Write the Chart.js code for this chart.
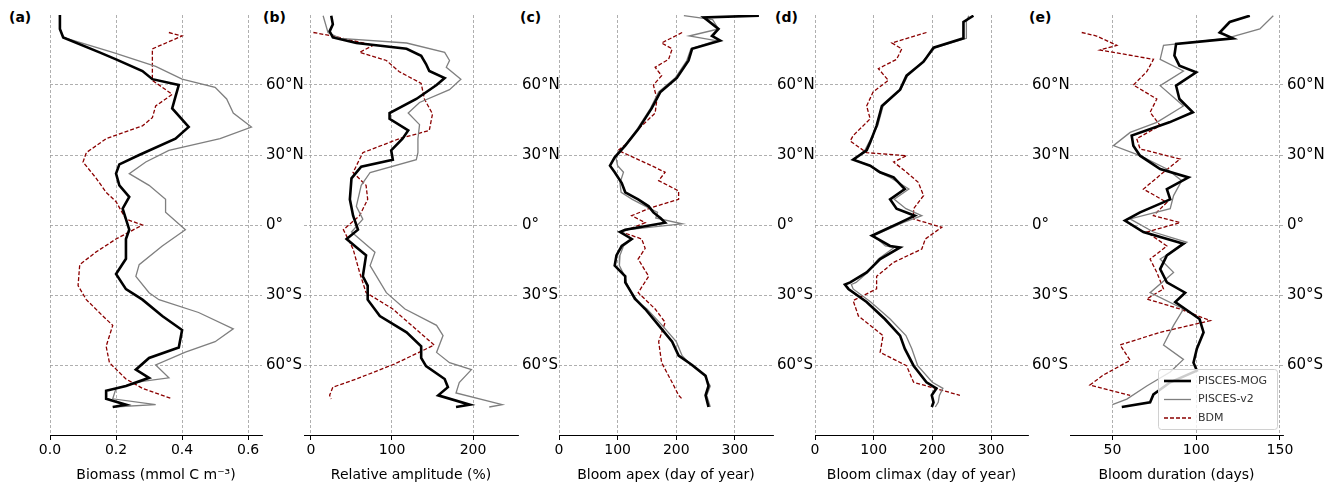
<!DOCTYPE html>
<html>
<head>
<meta charset="utf-8">
<script src="https://cdn.jsdelivr.net/npm/chart.js@4.4.0/dist/chart.umd.min.js"></script>
<style>
  body { margin: 0; background: #fff; width: 1336px; height: 484px; overflow: hidden; position: relative; font-family: "DejaVu Sans", sans-serif; }
  canvas { position: absolute; top: 0; }
  .lab { position: absolute; top: 9px; font: bold 14px "DejaVu Sans", sans-serif; }
</style>
</head>
<body>
<div class="lab" style="left:9px">(a)</div>
<div class="lab" style="left:263px">(b)</div>
<div class="lab" style="left:520px">(c)</div>
<div class="lab" style="left:775px">(d)</div>
<div class="lab" style="left:1029px">(e)</div>
<canvas id="ca"></canvas>
<canvas id="cb"></canvas>
<canvas id="cc"></canvas>
<canvas id="cd"></canvas>
<canvas id="ce"></canvas>
<script>
// ---- latitude ticks
const latTicks = [-60, -30, 0, 30, 60];
const latNames = { "-60": "60°S", "-30": "30°S", "0": "0°", "30": "30°N", "60": "60°N" };
const seriesNames = ["PISCES-MOG", "PISCES-v2", "BDM"];

// ---- (a) biomass
const latA_mog = [90, 84, 80.4, 74, 71, 66, 62.5, 60, 55, 50, 42, 37, 30, 26, 22, 17, 12, 7, 2.5, -2, -6, -14.5, -21, -27.5, -32, -39, -45, -52.5, -57, -62, -65.5, -69, -71, -74.5, -77, -78];
const bioMog = [0.03, 0.03, 0.04, 0.15, 0.2, 0.28, 0.31, 0.39, 0.38, 0.37, 0.42, 0.38, 0.27, 0.21, 0.2, 0.21, 0.24, 0.22, 0.23, 0.24, 0.23, 0.23, 0.2, 0.23, 0.28, 0.34, 0.4, 0.39, 0.3, 0.26, 0.3, 0.23, 0.17, 0.17, 0.23, 0.19];
const latA_v2 = [90, 84, 80.4, 74, 68, 62.5, 59, 54, 48, 42, 37, 32, 27, 22, 17, 11, 5.5, -2, -9, -17, -22, -29, -32, -37.5, -44.5, -50, -54.5, -60, -65.5, -67, -70, -74.5, -77, -78];
const bioV2 = [0.03, 0.03, 0.04, 0.19, 0.32, 0.4, 0.5, 0.535, 0.555, 0.61, 0.515, 0.36, 0.29, 0.24, 0.3, 0.35, 0.35, 0.41, 0.34, 0.27, 0.26, 0.3, 0.33, 0.45, 0.555, 0.5, 0.41, 0.32, 0.36, 0.28, 0.2, 0.19, 0.32, 0.19];
const latA_bdm = [82.5, 81, 75.5, 68, 62, 56, 51, 46, 42.5, 37, 31, 27, 20, 14, 10, 2.5, 0, -6, -11.5, -17, -26, -32, -39, -43, -52, -59, -66, -70, -74.5];
const bioBdm = [0.36, 0.4, 0.31, 0.31, 0.31, 0.37, 0.32, 0.31, 0.28, 0.17, 0.11, 0.1, 0.14, 0.17, 0.2, 0.23, 0.28, 0.2, 0.14, 0.09, 0.085, 0.11, 0.16, 0.19, 0.17, 0.18, 0.23, 0.28, 0.37];

// ---- (b) relative amplitude
const latB_mog = [89.7, 86, 83, 80.4, 78, 75.5, 72.5, 69, 66, 63, 60, 54, 48, 45.5, 40.5, 37, 32, 28, 25, 20, 11, 4, -2, -6, -9.5, -13, -22, -26, -32, -39, -46, -52, -57, -60.5, -66, -69.5, -73, -77, -78];
const ampMog = [25, 27, 23, 27, 56, 118, 136, 142, 146, 165, 155, 130, 97, 97, 120, 113, 99, 101, 62, 50, 48, 52, 58, 44, 56, 68, 64, 70, 70, 85, 118, 136, 136, 142, 165, 169, 157, 196, 179];
const latB_v2 = [89.7, 82.5, 80, 78, 74, 70.5, 67.6, 62.5, 58, 52.5, 48, 43, 37, 31, 28, 22.5, 17, 8, 2.5, -3, -11.7, -17.4, -29, -36, -43, -47.4, -54.6, -59, -62, -67.5, -72, -77, -78];
const ampV2 = [15, 21, 36, 118, 165, 171, 167, 185, 171, 134, 120, 134, 132, 132, 130, 73, 62, 56, 64, 50, 79, 73, 93, 116, 155, 163, 155, 171, 198, 183, 179, 236, 220];
const latB_bdm = [82.5, 81, 77, 74, 70.5, 65.7, 60.7, 54, 47.6, 40.5, 37, 31, 22.5, 17, 11, 4, -2, -10.3, -20.3, -29, -36, -46, -51.4, -53.8, -59.6, -66, -69.5, -73, -74.6];
const ampBdm = [3, 27, 77, 60, 93, 109, 136, 140, 150, 146, 109, 64, 52, 68, 70, 60, 40, 52, 60, 68, 101, 134, 152, 138, 103, 56, 27, 23, 25];

// ---- (c) bloom apex
const latC_mog = [89.7, 89, 84, 81, 79, 75.5, 70.5, 63, 57, 50, 41, 34, 29, 25.4, 22.6, 18, 14, 11, 8, 5.4, 3, 1, -2, -3, -6, -9, -13, -17.4, -22, -24.6, -31.7, -36, -43, -50, -56, -60, -64.6, -69, -73, -78];
const apexMog = [341, 247, 272, 261, 275, 227, 221, 201, 173, 158, 135, 113, 95, 87, 95, 107, 113, 135, 153, 161, 173, 181, 113, 104, 124, 107, 98, 95, 113, 113, 130, 147, 170, 193, 204, 227, 250, 255, 250, 255];
const latC_v2 = [89.7, 88, 84, 81, 79, 75.5, 70.5, 63, 57, 50, 41, 34, 29, 25.4, 22.6, 18, 14, 11, 8, 5.4, 3, 0.5, -2, -3, -6, -9, -13, -17.4, -22, -24.6, -31.7, -36, -43, -50, -56, -60, -64.6, -69, -73, -78];
const apexV2 = [213, 262, 272, 222, 268, 225, 218, 198, 170, 156, 133, 112, 97, 100, 110, 104, 106, 125, 148, 168, 165, 210, 118, 108, 125, 110, 104, 103, 112, 115, 128, 150, 176, 200, 210, 225, 248, 258, 252, 258];
const latC_bdm = [82.5, 78, 75.5, 71, 67.6, 64, 60, 54, 48, 41, 35.4, 32, 30, 25.4, 22.6, 19, 14.6, 11, 7.5, 4, 1, -3, -6, -10, -14.6, -22, -29, -36, -41.7, -50, -59, -67.5, -73, -74.6];
const apexBdm = [210, 175, 193, 187, 164, 175, 161, 167, 164, 135, 118, 101, 118, 158, 181, 170, 204, 204, 158, 124, 147, 107, 141, 147, 135, 153, 135, 164, 181, 170, 175, 193, 204, 210];

// ---- (d) bloom climax
const latD = [89.7, 87, 80, 76, 70, 64, 58, 51, 42.6, 35.4, 32, 28, 25.4, 22.6, 20.4, 15.4, 11, 7, 4, 1, -4.6, -9, -9.6, -14.6, -20.3, -24.6, -25.5, -27.4, -33, -40.3, -47.4, -53, -60.3, -67.4, -70, -73, -76, -78];
const climMog = [270, 253, 253, 202, 185, 156, 145, 114, 105, 94, 88, 65, 94, 111, 134, 153, 128, 139, 170, 145, 97, 128, 145, 111, 88, 60, 51, 57, 88, 119, 145, 153, 168, 190, 207, 199, 202, 199];
const climV2 = [262, 258, 258, 205, 183, 158, 146, 116, 107, 92, 85, 67, 95, 108, 128, 160, 135, 155, 182, 150, 100, 120, 135, 108, 90, 70, 62, 65, 95, 128, 155, 165, 175, 200, 218, 212, 210, 205];
const latD_bdm = [82.5, 78, 75.5, 71, 67, 62, 57, 51, 45.5, 38.3, 36, 31, 29.7, 27, 22.6, 18.3, 12.6, 7, 2.6, -1, -6, -10.3, -16, -22, -27.4, -32.4, -39, -47.4, -54.6, -60.3, -67.4, -73];
const climBdm = [190, 131, 148, 139, 108, 125, 99, 88, 94, 65, 60, 88, 156, 134, 156, 176, 185, 168, 168, 216, 188, 182, 134, 105, 105, 65, 74, 116, 111, 156, 168, 247];

// ---- (e) bloom duration
const latE_mog = [89.7, 87, 82.5, 80, 77.6, 72.6, 68.3, 65.4, 59.7, 54, 48.3, 44, 38.3, 34, 29.7, 24, 20.4, 15.4, 11, 5.4, 1.9, -3, -8, -13, -18.9, -24.6, -29, -33, -40.3, -46, -53, -59, -62.4, -67.4, -72.6, -76, -78];
const durMog = [132, 120, 114, 122, 88, 87, 90, 100, 88, 90, 98, 84, 61.5, 62.5, 66.5, 78.5, 95.4, 82.5, 84.5, 66.5, 57.5, 68.5, 92.4, 82.5, 78.5, 82.5, 93.4, 87.5, 102, 104.4, 100.4, 98.4, 100.4, 84.5, 74.5, 72.5, 55.6];
const latE_v2 = [89.7, 84, 80, 77, 71, 66, 59.7, 51, 44, 39.7, 34, 29.7, 24, 19, 12.6, 7, 2.6, -3, -7.4, -14.6, -20.3, -29, -36, -43, -51.4, -57.6, -63, -69, -74.6, -77];
const durV2 = [146, 138, 118, 80.5, 78.5, 92.4, 78.5, 92.4, 76.5, 60.6, 50.6, 66.5, 82.5, 91.4, 86.5, 84.5, 60.5, 74.5, 94.4, 78.5, 86.5, 72.5, 92.4, 86.5, 80.5, 92.4, 84.5, 70.5, 58.6, 50];
const latE_bdm = [82.5, 81, 77, 75, 71, 65.7, 60, 54, 48.3, 42.6, 37, 32.6, 28.3, 22.6, 15.4, 9.7, 4, 1, -3, -9, -14.6, -20.3, -27.4, -31.7, -36, -41, -46, -51.4, -58, -64.3, -68.6, -73];
const durBdm = [31.7, 40.6, 52.6, 42.6, 74.5, 70.5, 62.5, 76.5, 72.5, 78.5, 64.5, 66.5, 90.4, 80.5, 68.5, 82.5, 74.5, 90.4, 70.5, 82.5, 72.5, 76.5, 80.5, 70.5, 90.4, 108.4, 78.5, 54.6, 60.6, 44.6, 36.6, 60.6];

function pts(lats, vals) {
    return lats.map((lat, i) => ({ x: vals[i], y: lat }));
}

const legendPlugin = {
    id: "boxLegend",
    afterDraw(chart, args, opts) {
        if (!opts.show) return;
        const ctx = chart.ctx;
        const a = chart.chartArea;
        const w = 119, h = 60;
        const x0 = a.right - 6 - w, y0 = a.bottom - 6 - h;
        ctx.save();
        ctx.fillStyle = "rgba(255,255,255,0.8)";
        ctx.strokeStyle = "#d0d0d0";
        ctx.lineWidth = 1;
        ctx.beginPath();
        ctx.roundRect(x0 + 0.5, y0 + 0.5, w, h, 3);
        ctx.fill();
        ctx.stroke();
        ctx.font = "11px 'DejaVu Sans'";
        ctx.textBaseline = "middle";
        chart.data.datasets.forEach((ds, i) => {
            const yy = y0 + 12 + i * 18.5;
            ctx.strokeStyle = ds.borderColor;
            ctx.lineWidth = ds.borderWidth;
            ctx.setLineDash(ds.borderDash || []);
            ctx.beginPath();
            ctx.moveTo(x0 + 6, yy);
            ctx.lineTo(x0 + 33, yy);
            ctx.stroke();
            ctx.setLineDash([]);
            ctx.fillStyle = "#333";
            ctx.fillText(ds.label, x0 + 40, yy);
        });
        ctx.restore();
    }
};

function makePanel(id, left, right, xmin, xmax, xticks, fmt, title, data, legend) {
    const canvas = document.getElementById(id);
    const W = (right - left) + 15 + 52;
    canvas.style.left = (left - 15) + "px";
    canvas.style.width = W + "px";
    canvas.style.height = "484px";
    canvas.width = W;
    canvas.height = 484;
    const gridColor = "#9a9a9a";
    new Chart(canvas, {
        type: "scatter",
        data: {
            datasets: [
                { label: seriesNames[0], data: data[0], borderColor: "#000", borderWidth: 2.6, showLine: true, pointRadius: 0, order: 0 },
                { label: seriesNames[1], data: data[1], borderColor: "#7f7f7f", borderWidth: 1.3, showLine: true, pointRadius: 0, order: 1 },
                { label: seriesNames[2], data: data[2], borderColor: "#8b0000", borderWidth: 1.3, borderDash: [4, 2], showLine: true, pointRadius: 0, order: 2 }
            ]
        },
        options: {
            responsive: false,
            animation: false,
            layout: { padding: { left: 15, top: 15, right: 0, bottom: 0 } },
            plugins: { legend: { display: false }, tooltip: { enabled: false }, boxLegend: { show: legend } },
            scales: {
                x: {
                    type: "linear", min: xmin, max: xmax,
                    afterBuildTicks: s => { s.ticks = xticks.map(v => ({ value: v })); },
                    afterFit: s => { s.height = 49; },
                    border: { display: true, color: "#000", width: 1, dash: [3, 2] },
                    grid: { color: gridColor, lineWidth: 0.8, drawTicks: true, tickLength: 5, tickColor: "#000", tickWidth: 1, tickBorderDash: [] },
                    ticks: { color: "#000", font: { family: "DejaVu Sans", size: 14 }, padding: 2, callback: fmt, maxRotation: 0 },
                    title: { display: true, text: title, color: "#000", font: { family: "DejaVu Sans", size: 14 }, padding: { top: 1, bottom: 0 } }
                },
                y: {
                    type: "linear", position: "right", min: -90, max: 90,
                    afterBuildTicks: s => { s.ticks = latTicks.map(v => ({ value: v })); },
                    afterFit: s => { s.width = 52; },
                    border: { display: false, dash: [3, 2] },
                    grid: { color: gridColor, lineWidth: 0.8, drawTicks: false },
                    ticks: { color: "#000", font: { family: "DejaVu Sans", size: 15 }, padding: 4, callback: v => latNames[String(v)] }
                }
            }
        },
        plugins: [legendPlugin]
    });
}

makePanel("ca", 50, 262, 0, 0.642, [0, 0.2, 0.4, 0.6], v => v.toFixed(1), "Biomass (mmol C m\u207B\u00B3)",
    [pts(latA_mog, bioMog), pts(latA_v2, bioV2), pts(latA_bdm, bioBdm)], false);
makePanel("cb", 304, 518, -8.6, 255.5, [0, 100, 200], v => v, "Relative amplitude (%)",
    [pts(latB_mog, ampMog), pts(latB_v2, ampV2), pts(latB_bdm, ampBdm)], false);
makePanel("cc", 559, 773, 0, 365, [0, 100, 200, 300], v => v, "Bloom apex (day of year)",
    [pts(latC_mog, apexMog), pts(latC_v2, apexV2), pts(latC_bdm, apexBdm)], false);
makePanel("cd", 815, 1028, 0, 363, [0, 100, 200, 300], v => v, "Bloom climax (day of year)",
    [pts(latD, climMog), pts(latD, climV2), pts(latD_bdm, climBdm)], false);
makePanel("ce", 1070, 1283, 24.7, 151.8, [50, 100, 150], v => v, "Bloom duration (days)",
    [pts(latE_mog, durMog), pts(latE_v2, durV2), pts(latE_bdm, durBdm)], true);
</script>
</body>
</html>
